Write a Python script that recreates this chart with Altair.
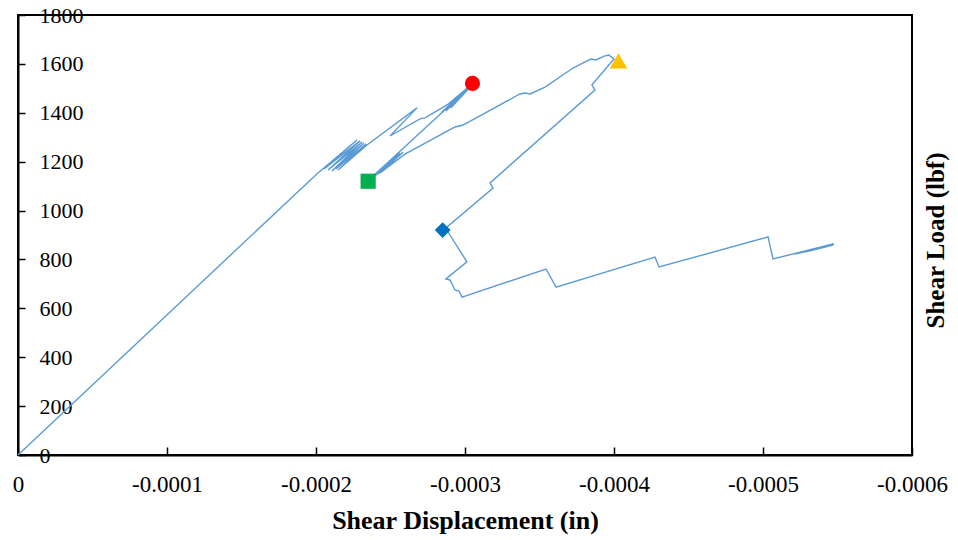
import altair as alt
import pandas as pd

# Shear load vs. shear displacement curve
disp = [0.0, -0.0002013, -0.0002275, -0.0002054, -0.0002295, -0.0002081, -0.0002309, -0.0002107,
        -0.0002322, -0.0002134, -0.0002336, -0.0002148,
        -0.0002342, -0.0002678, -0.0002497, -0.0002698, -0.0002732, -0.0002879, -0.0003034,
        -0.0002839, -0.0003020, -0.0002872, -0.0003040, -0.0002906, -0.0003054, -0.0002376,
        -0.0002550, -0.0002396, -0.0002564, -0.0002416, -0.0002584, -0.0002430, -0.0002597,
        -0.0002933, -0.0002987, -0.0003369, -0.0003403,
        -0.0003436, -0.0003537, -0.0003725, -0.0003819, -0.0003846, -0.0003879, -0.0003933,
        -0.0003966, -0.0004000, -0.0003852, -0.0003872, -0.0003168, -0.0003188, -0.0002872,
        -0.0002899, -0.0003013, -0.0002872, -0.0002899, -0.0002933, -0.0002960, -0.0002980,
        -0.0003544, -0.0003611, -0.0004275, -0.0004302, -0.0005034, -0.0005067, -0.0005470,
        -0.0005215, -0.0005470, -0.0005282, -0.0005477]
load = [0, 1154, 1289, 1170, 1285, 1166, 1280, 1162, 1276, 1170, 1272, 1166,
        1268, 1420, 1305, 1375, 1379, 1432, 1510,
        1399, 1505, 1407, 1510, 1420, 1518, 1137,
        1227, 1141, 1235, 1150, 1239, 1154,
        1231, 1342, 1350, 1477, 1481,
        1477, 1505, 1583, 1612, 1620, 1616, 1632,
        1636, 1620, 1514, 1493, 1113, 1092, 929,
        900, 790, 720, 716, 675, 671, 646,
        761, 687, 810, 769, 892, 802, 863,
        822, 859, 830, 863]

# Highlighted points
mk_name = ["A", "B", "C", "D"]
mk_disp = [-0.000305, -0.000235, -0.000403, -0.000285]
mk_load = [1520, 1120, 1612, 920]
mk_shape = ["circle", "square", "triangle-up", "diamond"]
mk_color = ["#FF0000", "#00B050", "#FFC000", "#0070C0"]

x_ticks = [0, -0.0001, -0.0002, -0.0003, -0.0004, -0.0005, -0.0006]
x_tick_labels = ["0", "-0.0001", "-0.0002", "-0.0003", "-0.0004", "-0.0005", "-0.0006"]
y_ticks = [0, 200, 400, 600, 800, 1000, 1200, 1400, 1600, 1800]

W, H = 894, 440
FONT = "Liberation Serif"

curve = pd.DataFrame({"disp": disp, "load": load, "idx": list(range(len(disp)))})
marks = pd.DataFrame({"name": mk_name, "disp": mk_disp, "load": mk_load})

label_expr = "[" + ",".join("'%s'" % s for s in x_tick_labels) + "][round(-datum.value*10000)]"

x_axis = alt.Axis(
    orient="top", offset=-H, values=x_ticks, labelExpr=label_expr,
    grid=False, tickSize=8, tickColor="black", tickWidth=1.5,
    domainColor="black", domainWidth=2,
    labelFont=FONT, labelFontSize=23, labelColor="black",
    labelBaseline="middle", labelAlign="center", labelPadding=-37,
    labelFlush=False, labelOverlap=False, labelBound=False,
    title="Shear Displacement (in)", titleFont=FONT, titleFontSize=26,
    titleFontWeight="bold", titleColor="black", titleX=447, titleY=65,
    titleAlign="center", titleBaseline="middle", titleAngle=0,
)
y_axis = alt.Axis(
    orient="right", offset=-W, values=y_ticks, format="d",
    grid=False, tickSize=7, tickColor="black", tickWidth=1.5,
    domainColor="black", domainWidth=2,
    labelFont=FONT, labelFontSize=22, labelColor="black",
    labelAlign="left", labelBaseline="middle", labelPadding=14,
    labelFlush=False, labelOverlap=False, labelBound=False,
    title="Shear Load (lbf)", titleFont=FONT, titleFontSize=25,
    titleFontWeight="bold", titleColor="black", titleX=917, titleY=225,
    titleAngle=270, titleAlign="center", titleBaseline="middle",
)

x_scale = alt.Scale(domain=[-0.0006, 0], reverse=True, nice=False, zero=False)
y_scale = alt.Scale(domain=[0, 1800], nice=False)

line = alt.Chart(curve).mark_line(color="#5B9BD5", strokeWidth=1.4).encode(
    x=alt.X("disp:Q", scale=x_scale, axis=x_axis),
    y=alt.Y("load:Q", scale=y_scale, axis=y_axis),
    order="idx:Q",
)

points = alt.Chart(marks).mark_point(filled=True, opacity=1).encode(
    x=alt.X("disp:Q", scale=x_scale, axis=x_axis),
    y=alt.Y("load:Q", scale=y_scale, axis=y_axis),
    shape=alt.Shape("name:N", scale=alt.Scale(domain=mk_name, range=mk_shape), legend=None),
    color=alt.Color("name:N", scale=alt.Scale(domain=mk_name, range=mk_color), legend=None),
    size=alt.Size("name:N", scale=alt.Scale(type="ordinal", domain=mk_name,
                                            range=[230, 230, 310, 250]), legend=None),
)

chart = alt.layer(line, points).properties(
    width=W, height=H,
    autosize=alt.AutoSizeParams(type="none"),
    padding={"left": 18, "top": 15, "right": 46, "bottom": 85},
    background="white",
).configure_view(stroke="black", strokeWidth=2)

chart.save("out.html", embed_options={"renderer": "svg", "actions": False})
